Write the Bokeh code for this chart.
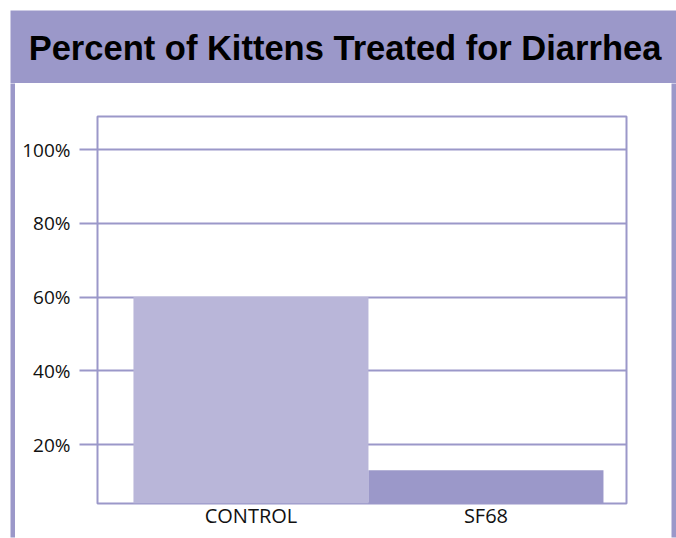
from bokeh.plotting import figure
from bokeh.layouts import column, row
from bokeh.models import Label, FixedTicker, Range1d
from bokeh.embed import file_html
from bokeh.resources import INLINE

# ---- data ----
categories = ["CONTROL", "SF68"]
percent_treated = [60, 13]
bar_colors = ["#b9b6d9", "#9b98c9"]
y_ticks = [20, 40, 60, 80, 100]
y_tick_labels = ["20%", "40%", "60%", "80%", "100%"]
title_text = "Percent of Kittens Treated for Diarrhea"

PURPLE = "#9b98c9"
LIGHT_LINE = "#d6d5ea"
positions = [i + 0.5 for i in range(len(categories))]


def block(width, height, fill, left=0, right=0, top=0, bottom=0):
    """An empty figure whose frame is a solid colour block."""
    f = figure(width=width, height=height, output_backend="svg",
               toolbar_location=None, x_axis_location=None, y_axis_location=None,
               x_range=Range1d(0, 1), y_range=Range1d(0, 1),
               min_border=0, min_border_left=left, min_border_right=right,
               min_border_top=top, min_border_bottom=bottom)
    f.background_fill_color = fill
    f.border_fill_color = "white"
    f.outline_line_color = None
    f.grid.visible = False
    return f


# ---- title band ----
top = block(676, 83, PURPLE, left=10, top=10)
top.add_layout(Label(x=334.5, y=35.5, x_units="screen", y_units="screen",
                     text=title_text, text_align="center", text_baseline="middle",
                     text_font="Liberation Sans", text_font_style="bold",
                     text_font_size="34.5px", text_color="black"))

# ---- side borders ----
left_strip = block(15, 455, PURPLE, left=10, bottom=1)
right_strip = block(5, 455, PURPLE, bottom=1)
bottom_line = block(656, 3, LIGHT_LINE, bottom=1)

# ---- main chart ----
p = figure(width=656, height=452,
           x_range=Range1d(-0.153, 2.098), y_range=Range1d(4, 109),
           output_backend="svg", toolbar_location=None,
           min_border=0, min_border_left=82, min_border_right=45,
           min_border_top=33, min_border_bottom=32)

p.background_fill_color = "white"
p.border_fill_color = "white"
p.outline_line_color = PURPLE
p.outline_line_width = 2

p.vbar(x=positions, top=percent_treated, bottom=0, width=1.0,
       fill_color=bar_colors, line_color=None)

p.xgrid.grid_line_color = None
p.ygrid.ticker = FixedTicker(ticks=y_ticks)
p.ygrid.grid_line_color = PURPLE
p.ygrid.grid_line_width = 2

p.yaxis.ticker = FixedTicker(ticks=y_ticks)
p.yaxis.major_label_overrides = {t: l for t, l in zip(y_ticks, y_tick_labels)}
p.yaxis.axis_line_color = None
p.yaxis.major_tick_out = 18
p.yaxis.major_tick_in = 0
p.yaxis.major_tick_line_color = PURPLE
p.yaxis.major_tick_line_width = 2
p.yaxis.minor_tick_line_color = None
p.yaxis.major_label_standoff = 9
p.yaxis.major_label_text_font = "Open Sans"
p.yaxis.major_label_text_font_size = "19px"
p.yaxis.major_label_text_color = "#111111"

p.xaxis.ticker = FixedTicker(ticks=positions)
p.xaxis.major_label_overrides = {pos: c for pos, c in zip(positions, categories)}
p.xaxis.axis_line_color = None
p.xaxis.major_tick_line_color = None
p.xaxis.minor_tick_line_color = None
p.xaxis.major_tick_out = 0
p.xaxis.major_tick_in = 0
p.xaxis.major_label_standoff = -2
p.xaxis.major_label_text_font = "Open Sans"
p.xaxis.major_label_text_font_size = "20px"
p.xaxis.major_label_text_color = "#111111"

layout = column(top,
                row(left_strip, column(p, bottom_line, spacing=0), right_strip, spacing=0),
                spacing=0)

open("out.html", "w").write(file_html(layout, INLINE))
